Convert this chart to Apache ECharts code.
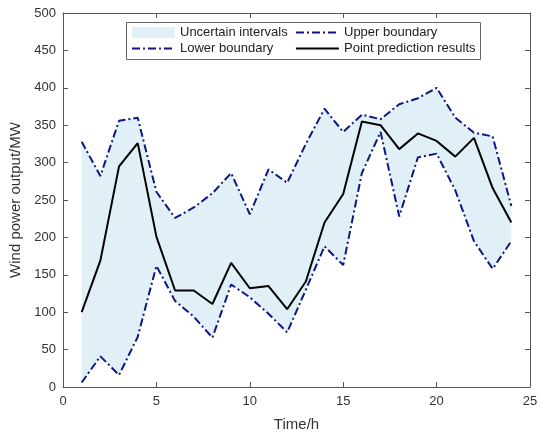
<!DOCTYPE html>
<html>
<head>
<meta charset="UTF-8">
<title>wind power interval</title>
<script src="https://cdn.jsdelivr.net/npm/echarts@6/dist/echarts.min.js"></script>
<style>
  html, body { margin: 0; padding: 0; background: #fff; }
</style>
</head>
<body>
<div id="main" style="width: 550px;height:440px;"></div>
<script type="text/javascript">
// data
var hours = [1, 2, 3, 4, 5, 6, 7, 8, 9, 10, 11, 12, 13, 14, 15, 16, 17, 18, 19, 20, 21, 22, 23, 24];
var upperBound = [328, 282, 356, 360, 261, 226, 240, 259, 286, 231, 291, 273, 325, 372, 341, 364, 358, 378, 386, 400, 360, 340, 335, 242];
var pointPred = [100, 169, 295, 326, 201, 129, 129, 111, 166, 132, 135, 104, 141, 220, 258, 355, 350, 318, 339, 329, 308, 333, 266, 220];
var lowerBound = [6, 41, 16, 67, 162, 115, 94, 66, 137, 120, 98, 73, 130, 188, 163, 286, 341, 228, 307, 312, 263, 195, 158, 195];
var xTicks = [0, 5, 10, 15, 20, 25];
var yTicks = [0, 50, 100, 150, 200, 250, 300, 350, 400, 450, 500];

var FONT = 'Arial, "Liberation Sans", Helvetica, sans-serif';
var NAVY = '#0d1683';
var FILL = '#e0f0f6';
var AXIS = '#555';

function pairs(ys) {
  var out = [];
  for (var i = 0; i < hours.length; i++) out.push([hours[i], ys[i]]);
  return out;
}

// band polygon: upper bound left->right, lower bound right->left
function renderBand(params, api) {
  var pts = [];
  for (var i = 0; i < hours.length; i++) pts.push(api.coord([hours[i], upperBound[i]]));
  for (var j = hours.length - 1; j >= 0; j--) pts.push(api.coord([hours[j], lowerBound[j]]));
  return {
    type: 'polygon',
    shape: { points: pts },
    style: { fill: FILL }
  };
}

var myChart = echarts.init(document.getElementById('main'), null, { renderer: 'canvas' });

var axisCommon = {
  type: 'value',
  z: 5,
  axisLine: { show: true, onZero: false, lineStyle: { color: AXIS, width: 1 } },
  axisTick: { show: true, inside: true, length: 5, lineStyle: { color: AXIS } },
  splitLine: { show: false }
};

var option = {
  animation: false,
  backgroundColor: '#fff',
  textStyle: { fontFamily: FONT },
  grid: { left: 58, right: 20, top: 13, bottom: 53 },
  xAxis: [
    Object.assign({}, axisCommon, {
      min: xTicks[0], max: xTicks[xTicks.length - 1], interval: 5,
      position: 'bottom',
      name: 'Time/h', nameLocation: 'middle', nameGap: 30,
      nameTextStyle: { fontSize: 15, color: '#333', fontFamily: FONT },
      axisLabel: { fontSize: 13, color: '#333', margin: 8, fontFamily: FONT }
    }),
    Object.assign({}, axisCommon, {
      min: xTicks[0], max: xTicks[xTicks.length - 1], interval: 5,
      position: 'top',
      axisLabel: { show: false }
    })
  ],
  yAxis: [
    Object.assign({}, axisCommon, {
      min: yTicks[0], max: yTicks[yTicks.length - 1], interval: 50,
      position: 'left',
      name: 'Wind power output/MW', nameLocation: 'middle', nameGap: 40,
      nameTextStyle: { fontSize: 15, color: '#333', fontFamily: FONT },
      axisLabel: { fontSize: 13, color: '#333', margin: 7, fontFamily: FONT }
    }),
    Object.assign({}, axisCommon, {
      min: yTicks[0], max: yTicks[yTicks.length - 1], interval: 50,
      position: 'right',
      axisLabel: { show: false }
    })
  ],
  // legend frame
  graphic: [{
    type: 'rect',
    z: 1,
    shape: { x: 126.5, y: 22.5, width: 354, height: 37 },
    style: { fill: '#fff', stroke: '#666', lineWidth: 1 }
  }],
  legend: [{
    orient: 'vertical',
    left: 131, top: 26,
    padding: 0,
    itemWidth: 43, itemHeight: 11, itemGap: 3,
    z: 5,
    textStyle: { fontSize: 13, color: '#222', fontFamily: FONT },
    data: [
      { name: 'Uncertain intervals', icon: 'rect', itemStyle: { color: FILL } },
      { name: 'Lower boundary', itemStyle: { opacity: 0 } }
    ]
  }, {
    orient: 'vertical',
    left: 295, top: 26,
    padding: 0,
    itemWidth: 43, itemHeight: 11, itemGap: 3,
    z: 5,
    textStyle: { fontSize: 13, color: '#222', fontFamily: FONT },
    data: [
      { name: 'Upper boundary', itemStyle: { opacity: 0 } },
      { name: 'Point prediction results', itemStyle: { opacity: 0 } }
    ]
  }],
  series: [{
    name: 'Uncertain intervals',
    type: 'custom',
    renderItem: renderBand,
    itemStyle: { color: FILL },
    silent: true,
    data: [[hours[0], lowerBound[0]]]
  }, {
    name: 'Lower boundary',
    type: 'line',
    symbol: 'none',
    itemStyle: { color: NAVY },
    lineStyle: { color: NAVY, width: 2, type: [8, 3, 2, 3] },
    data: pairs(lowerBound)
  }, {
    name: 'Upper boundary',
    type: 'line',
    symbol: 'none',
    itemStyle: { color: NAVY },
    lineStyle: { color: NAVY, width: 2, type: [8, 3, 2, 3] },
    data: pairs(upperBound)
  }, {
    name: 'Point prediction results',
    type: 'line',
    symbol: 'none',
    itemStyle: { color: '#000' },
    lineStyle: { color: '#000', width: 2 },
    data: pairs(pointPred)
  }]
};

myChart.setOption(option);
</script>
</body>
</html>
